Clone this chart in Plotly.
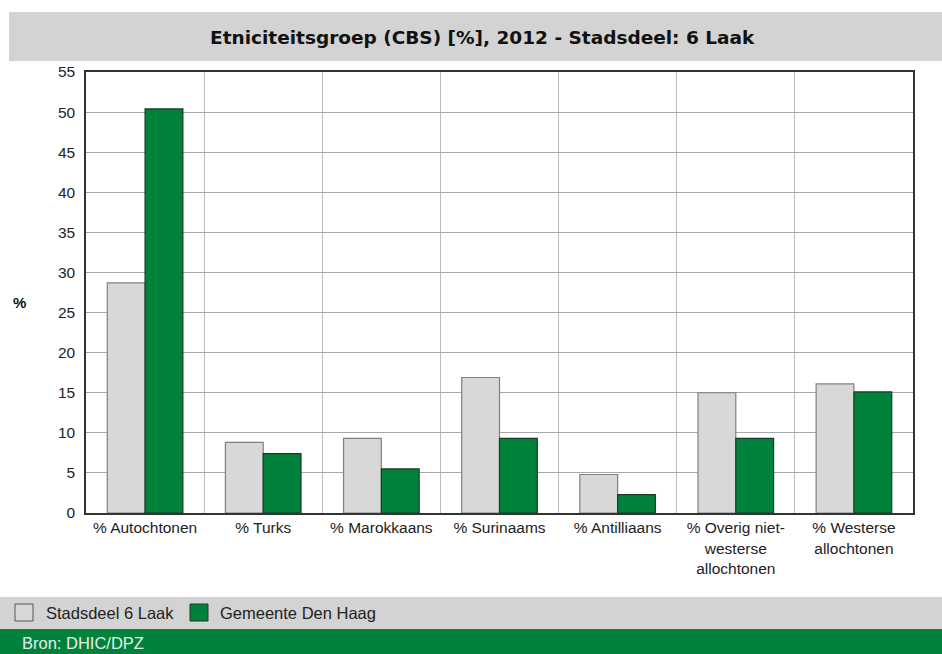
import plotly.graph_objects as go

categories = ["% Autochtonen", "% Turks", "% Marokkaans", "% Surinaams", "% Antilliaans",
              "% Overig niet-<br>westerse<br>allochtonen", "% Westerse<br>allochtonen"]
series_names = ["Stadsdeel 6 Laak", "Gemeente Den Haag"]
laak = [28.7, 8.8, 9.3, 16.9, 4.8, 15.0, 16.1]
den_haag = [50.4, 7.4, 5.5, 9.3, 2.3, 9.3, 15.1]
y_ticks = [0, 5, 10, 15, 20, 25, 30, 35, 40, 45, 50, 55]
title_text = "Etniciteitsgroep (CBS) [%], 2012 - Stadsdeel: 6 Laak"
source_text = "Bron: DHIC/DPZ"

GREEN = "#00823c"
GREY = "#d8d8d8"
SANS = "Liberation Sans, Arial, sans-serif"

fig = go.Figure()
fig.add_bar(x=categories, y=laak, name=series_names[0], showlegend=False,
            marker=dict(color=GREY, line=dict(color="#808080", width=1.2)))
fig.add_bar(x=categories, y=den_haag, name=series_names[1], showlegend=False,
            marker=dict(color=GREEN, line=dict(color="#1e3b24", width=1.2)))

W, H = 942, 654
L, R, T, B = 86, 29, 72, 141
pw, ph = W - L - R, H - T - B

def px(xp):
    return (xp - L) / pw

def py(yp):
    return (H - B - yp) / ph

shapes = [
    dict(type="rect", xref="paper", yref="paper", x0=px(9), x1=px(942), y0=py(61), y1=py(12),
         fillcolor="#d3d3d3", line=dict(width=0), layer="below"),
    dict(type="rect", xref="paper", yref="paper", x0=px(0), x1=px(942), y0=py(629), y1=py(597),
         fillcolor="#d3d3d3", line=dict(width=0), layer="below"),
    dict(type="rect", xref="paper", yref="paper", x0=px(0), x1=px(942), y0=py(654), y1=py(629),
         fillcolor=GREEN, line=dict(width=0), layer="below"),
    # legend keys
    dict(type="rect", xref="paper", yref="paper", x0=px(15), x1=px(33), y0=py(621), y1=py(604),
         fillcolor=GREY, line=dict(color="#555", width=1)),
    dict(type="rect", xref="paper", yref="paper", x0=px(190), x1=px(208), y0=py(621), y1=py(604),
         fillcolor=GREEN, line=dict(color="#1e3b24", width=1)),
]

annotations = [
    dict(text="<b>" + title_text + "</b>", xref="paper", yref="paper",
         x=px(482), y=py(37), xanchor="center", yanchor="middle", showarrow=False,
         font=dict(family="DejaVu Sans, Verdana, sans-serif", size=18.5, color="#111")),
    dict(text="<b>%</b>", xref="paper", yref="paper", x=px(19), y=py(302), xanchor="center",
         yanchor="middle", showarrow=False, font=dict(family=SANS, size=15, color="#111")),
    dict(text=series_names[0], xref="paper", yref="paper", x=px(44), y=py(613), xanchor="left",
         yanchor="middle", showarrow=False, font=dict(family=SANS, size=16.5, color="#222")),
    dict(text=series_names[1], xref="paper", yref="paper", x=px(218), y=py(613), xanchor="left",
         yanchor="middle", showarrow=False, font=dict(family=SANS, size=16.5, color="#222")),
    dict(text=source_text, xref="paper", yref="paper", x=px(20), y=py(643), xanchor="left",
         yanchor="middle", showarrow=False, font=dict(family=SANS, size=16.5, color="#e6efe8")),
]

fig.update_layout(
    width=W, height=H,
    margin=dict(l=L, r=R, t=T, b=B, autoexpand=False),
    paper_bgcolor="white", plot_bgcolor="white",
    barmode="group", bargap=0.36, bargroupgap=0.0,
    shapes=shapes, annotations=annotations,
    showlegend=False,
    font=dict(family=SANS, size=15.5, color="#222"),
)
fig.update_xaxes(type="category", tickson="boundaries", showgrid=True, gridcolor="#bdbdbd",
                 gridwidth=1, showline=True, linecolor="#333", linewidth=1.5, mirror=True,
                 ticks="", tickfont=dict(family=SANS, size=15.5, color="#222"))
fig.update_yaxes(range=[0, 55], tickvals=y_ticks, showgrid=True, gridcolor="#a8a8a8",
                 gridwidth=1, showline=True, linecolor="#333", linewidth=1.5, mirror=True,
                 ticks="", zeroline=False, ticklabelstandoff=6,
                 tickfont=dict(family=SANS, size=15.5, color="#222"))

fig.write_html("out.html", post_script="document.body.style.margin='0';",
               config={"displayModeBar": False})
